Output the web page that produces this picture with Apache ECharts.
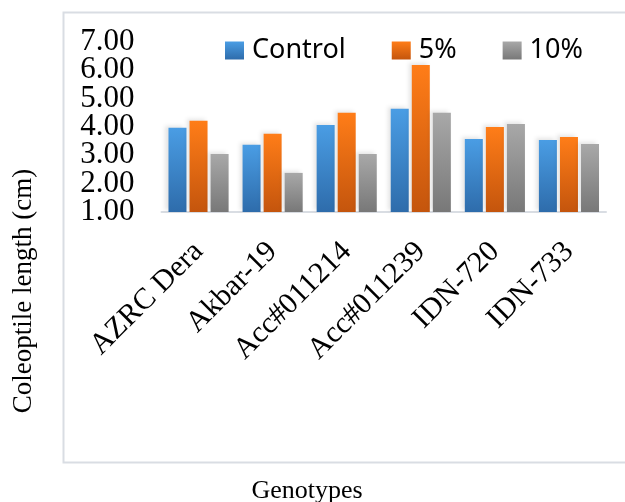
<!DOCTYPE html>
<html>
<head>
<meta charset="utf-8">
<script src="https://cdn.jsdelivr.net/npm/echarts@6/dist/echarts.min.js"></script>
<style>
html,body{margin:0;padding:0;background:#fff;}
#chart{width:625px;height:502px;}
</style>
</head>
<body>
<div id="chart"></div>
<script>
const categories = ["AZRC Dera", "Akbar-19", "Acc#011214", "Acc#011239", "IDN-720", "IDN-733"];
const seriesNames = ["Control", "5%", "10%"];
const controlValues = [3.97, 3.37, 4.07, 4.64, 3.58, 3.54];
const pct5Values = [4.22, 3.76, 4.50, 6.19, 4.00, 3.65];
const pct10Values = [3.05, 2.38, 3.05, 4.50, 4.11, 3.40];
const yTickLabels = ["1.00", "2.00", "3.00", "4.00", "5.00", "6.00", "7.00"];
const yMin = 1, yMax = 7, yStep = 1;
const yTitle = "Coleoptile length (cm)";
const xTitle = "Genotypes";

const grads = [
  ["#4a9de4", "#2e6cab"],
  ["#ff7d18", "#c4550d"],
  ["#a8a8a8", "#787878"]
];
function grad(c) {
  return new echarts.graphic.LinearGradient(0, 0, 0, 1, [
    {offset: 0, color: c[0]}, {offset: 1, color: c[1]}
  ]);
}
const valueSets = [controlValues, pct5Values, pct10Values];

// two overlaid value axes so alternate tick labels never collide
function yAxisDef(parity) {
  return {
    type: 'value', min: yMin, max: yMax, interval: yStep, position: 'left',
    axisLine: {show: false}, axisTick: {show: false}, splitLine: {show: false},
    axisLabel: {
      margin: 27, fontFamily: 'Liberation Serif', fontSize: 31, color: '#000',
      showMinLabel: true, showMaxLabel: true,
      formatter: v => {
        const idx = Math.round((v - yMin) / yStep);
        return idx % 2 === parity ? (yTickLabels[idx] || '') : '';
      }
    }
  };
}

const chart = echarts.init(document.getElementById('chart'), null, {renderer: 'canvas'});
chart.setOption({
  animation: false,
  backgroundColor: '#ffffff',
  grid: {left: 161.5, right: 19, top: 42, bottom: 290, containLabel: false},
  legend: {
    left: 225, top: 37, padding: 0,
    itemWidth: 19, itemHeight: 18, itemGap: 46,
    icon: 'rect',
    textStyle: {fontFamily: 'Noto Sans', fontSize: 27, color: '#000', padding: [0, 0, 0, 3]},
    data: seriesNames
  },
  xAxis: {
    type: 'category',
    data: categories,
    axisLine: {show: true, lineStyle: {color: '#d9dde3', width: 2}},
    axisTick: {show: false},
    axisLabel: {
      rotate: 45, interval: 0, margin: 35,
      align: 'right', verticalAlign: 'middle',
      fontFamily: 'Liberation Serif', fontSize: 30, color: '#000'
    }
  },
  yAxis: [yAxisDef(0), yAxisDef(1)],
  series: seriesNames.map((n, i) => ({
    name: n, type: 'bar',
    data: valueSets[i],
    yAxisIndex: 0,
    barWidth: 18, barGap: '17%',
    itemStyle: {
      color: grad(grads[i]),
      shadowColor: 'rgba(0,0,0,0.10)', shadowBlur: 4, shadowOffsetX: -3, shadowOffsetY: -2
    }
  })),
  graphic: [
    {type: 'rect', left: 61, top: 10, shape: {width: 600, height: 450},
     style: {fill: 'none', stroke: '#d9dde3', lineWidth: 2}, z: -1},
    {type: 'text', x: 24, y: 291, rotation: Math.PI / 2,
     style: {text: yTitle, font: '27px "Liberation Serif"', fill: '#000', textAlign: 'center', textVerticalAlign: 'middle'}},
    {type: 'text', x: 307, y: 491,
     style: {text: xTitle, font: '26px "Liberation Serif"', fill: '#000', textAlign: 'center', textVerticalAlign: 'middle'}}
  ]
});
</script>
</body>
</html>
